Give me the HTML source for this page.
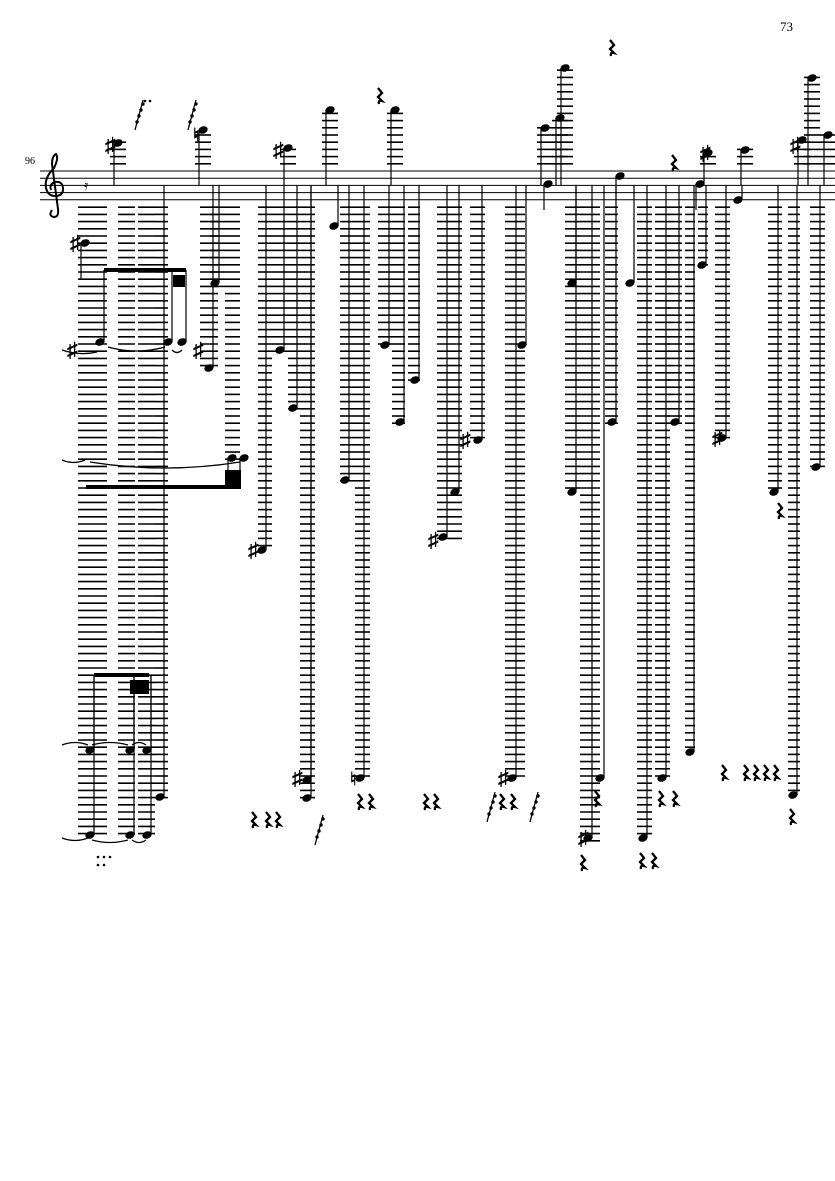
<!DOCTYPE html>
<html><head><meta charset="utf-8"><style>
html,body{margin:0;padding:0;background:#fff;}
svg{display:block;}
text{font-family:"Liberation Serif",serif;}
</style></head><body>
<svg id="s" width="835" height="1181" viewBox="0 0 835 1181" xmlns="http://www.w3.org/2000/svg">
<text x="780" y="31" font-size="13">73</text>
<text x="25" y="164" font-size="10">96</text>
<g stroke="#000" stroke-width="1" fill="none">
<line x1="40" y1="171" x2="835" y2="171"/><line x1="40" y1="178.2" x2="835" y2="178.2"/>
<line x1="40" y1="185.4" x2="835" y2="185.4"/><line x1="40" y1="192.6" x2="835" y2="192.6"/>
<line x1="40" y1="199.8" x2="835" y2="199.8"/>
</g>
<path d="M52 210 q-4 6 2 7 q5 0 4-8 l-6-45 q0-8 4-10 q3 4-2 14 q-10 10-8 20 q2 8 9 8 q8 0 8-7 q0-8-8-7 q-6 2-4 8" stroke="#000" stroke-width="2" fill="none"/>
<g id="g"></g>
</svg>
<script>
var g=document.getElementById('g'),h='';
function L(x1,y1,x2,y2,w){h+='<line x1="'+x1+'" y1="'+y1+'" x2="'+x2+'" y2="'+y2+'" stroke="#000" stroke-width="'+(w||1.3)+'"/>';}
var cols=[[78,107,838],[118,135,835],[138,155,835],[155,168,798],[200,218,370],[210,225,285],[225,240,458],[258,272,550],[272,288,350],[288,300,408],[300,315,798],[340,355,480],[355,370,778],[378,392,345],[392,405,422],[408,420,380],[437,462,540],[470,485,440],[505,525,778],[565,580,492],[580,600,840],[605,618,422],[637,652,838],[655,670,778],[668,682,422],[685,695,752],[698,708,265],[715,730,438],[768,782,492],[788,800,795],[810,825,467]];
cols.forEach(function(c){for(var y=207.2;y<=c[2]+2;y+=7.2)L(c[0],y.toFixed(1),c[1],y.toFixed(1),1.6);});
var notes=[[85,243,280],[100,342,270],[168,342,270],[182,342,270],[209,368,185],[215,283,185],[232,458,487],[244,458,487],[262,550,185],[280,350,185],[293,408,185],[307,780,185],[307,798,185],[345,480,185],[360,778,185],[385,345,185],[400,422,185],[415,380,185],[455,492,185],[443,537,185],[478,440,185],[512,778,185],[522,345,185],[572,492,185],[572,283,185],[588,838,185],[600,778,185],[612,422,185],[630,283,185],[643,838,185],[662,778,185],[675,422,185],[690,752,185],[702,265,185],[722,438,185],[774,492,185],[793,795,185],[816,467,185],[334,226,185],
[90,750,675],[90,835,675],[130,750,675],[130,835,675],[147,750,675],[147,835,675],[160,797,185],
[118,143,185],[203,130,185],[288,148,185],[330,110,185],[395,110,185],[545,128,185],[560,118,185],[565,68,185],[548,184,210],[620,176,200],[708,153,185],[745,150,185],[802,140,185],[812,78,185],[828,135,185],[700,184,210],[738,200,185]];
notes.forEach(function(n){var x=n[0],y=n[1];
 if(y<168){for(var ly=163.8;ly>=y-2;ly-=7.2)L(x-8,ly.toFixed(1),x+8,ly.toFixed(1),1.6);}
 h+='<ellipse cx="'+x+'" cy="'+y+'" rx="4.8" ry="3.6" transform="rotate(-22 '+x+' '+y+')" fill="#000"/>';
 var sx=n[2]<y?x+4:x-4;L(sx,y,sx,n[2],1.2);});
h+='<rect x="104" y="268" width="82" height="4" fill="#000"/><rect x="86" y="485" width="155" height="4" fill="#000"/><rect x="94" y="673" width="55" height="4" fill="#000"/>';
h+='<rect x="130" y="680" width="19" height="14" fill="#000"/><rect x="225" y="470" width="16" height="16" fill="#000"/><rect x="173" y="275" width="12" height="12" fill="#000"/>';
function T(x1,y1,x2,y2,d){h+='<path d="M'+x1+' '+y1+' Q'+((x1+x2)/2)+' '+(y1+d)+' '+x2+' '+y2+'" stroke="#000" stroke-width="1.3" fill="none"/>';}
T(62,350,97,352,6);T(108,347,165,347,8);T(172,350,182,350,5);T(62,460,85,460,5);T(90,462,240,462,12);T(62,745,88,745,-5);T(92,745,128,745,-5);T(132,745,146,745,-5);T(62,838,88,838,5);T(92,840,128,840,5);T(132,840,146,840,5);
function S(x,y){h+='<text x="'+x+'" y="'+(y+7)+'" font-size="21" font-weight="bold" font-family="DejaVu Sans">♯</text>';}
[[70,243],[67,350],[193,350],[105,145],[273,150],[460,440],[428,540],[248,550],[292,778],[498,778],[578,838],[712,438],[700,153],[790,145]].forEach(function(s){S(s[0],s[1]);});
h+='<text x="193" y="141" font-size="18" font-weight="bold" font-family="DejaVu Sans">♮</text><text x="350" y="785" font-size="18" font-weight="bold" font-family="DejaVu Sans">♮</text>';
function R(x,y){h+='<path d="M'+(x)+' '+(y-7)+' l4 5 l-4 4 l4 4 q-4 -1 -3 3" stroke="#000" stroke-width="2.3" fill="none"/>';}
[[378,95],[610,47],[672,162],[252,819],[266,819],[276,819],[358,801],[369,801],[424,801],[434,801],[500,801],[511,801],[595,798],[659,798],[673,798],[722,772],[744,772],[754,772],[764,772],[774,772],[790,816],[581,862],[640,860],[652,860],[778,510]].forEach(function(r){R(r[0],r[1]);});
function F(x,y){L(x,y,x+8,y-30,1.3);for(var i=0;i<4;i++)h+='<circle cx="'+(x+2+i*2)+'" cy="'+(y-8-i*6)+'" r="1.7" fill="#000"/>';}
F(135,130);F(188,130);F(315,845);F(487,822);F(530,822);
h+='<text x="84" y="190" font-size="14" font-family="DejaVu Sans">𝄿</text>';
[[145,101],[150,101],[98,857],[104,857],[110,857],[98,865],[104,865]].forEach(function(d){h+='<circle cx="'+d[0]+'" cy="'+d[1]+'" r="1.3" fill="#000"/>';});
g.innerHTML=h;
</script>
</body></html>
